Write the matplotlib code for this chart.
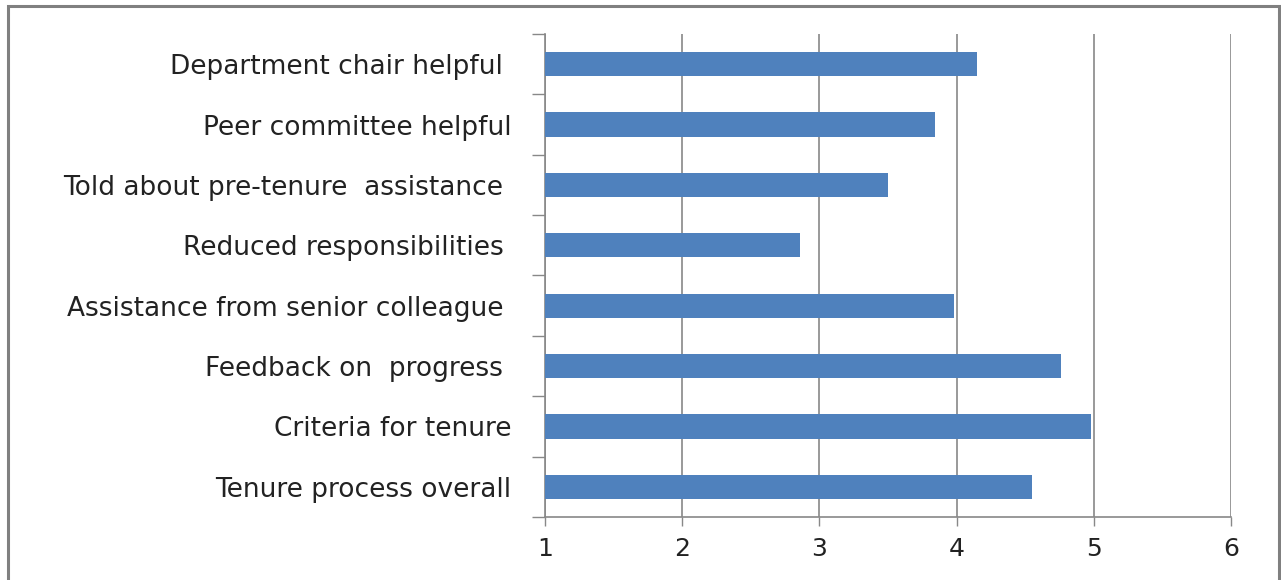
import matplotlib
matplotlib.use("Agg")
import matplotlib.pyplot as plt
from matplotlib.patches import Rectangle
import numpy as np

categories = [
    "Tenure process overall",
    "Criteria for tenure",
    "Feedback on  progress ",
    "Assistance from senior colleague ",
    "Reduced responsibilities ",
    "Told about pre-tenure  assistance ",
    "Peer committee helpful",
    "Department chair helpful ",
]
values = [4.55, 4.98, 4.76, 3.98, 2.86, 3.50, 3.84, 4.15]
xticks = [1, 2, 3, 4, 5, 6]

plt.rcParams['font.family'] = ['DejaVu Sans']

fig = plt.figure(figsize=(12.81, 5.80), dpi=100)
ax = fig.add_axes([545/1281, 1-517/580, (1231-545)/1281, (517-34)/580])

y = np.arange(len(categories))
ax.barh(y, values, height=0.4, color="#4F81BD", zorder=3)

ax.set_xlim(1, 6)
ax.set_ylim(-0.5, len(categories) - 0.5)
ax.set_xticks(xticks)
ax.set_xticklabels([str(t) for t in xticks], fontsize=18, color="#222222")
ax.set_yticks(y)
ax.set_yticklabels(categories, fontsize=19, color="#222222")
ax.set_yticks(np.arange(-0.5, len(categories), 1.0), minor=True)

ax.xaxis.grid(True, color="#888888", linewidth=1.2, zorder=0)
ax.tick_params(axis='y', which='major', length=0, pad=24)
ax.tick_params(axis='y', which='minor', length=9.5, width=1.0, color="#888888", direction='out')
ax.tick_params(axis='x', which='major', length=6.5, width=1.0, color="#888888", pad=8)

for s in ['top', 'right']:
    ax.spines[s].set_visible(False)
for s in ['left', 'bottom']:
    ax.spines[s].set_color("#888888")
    ax.spines[s].set_linewidth(1.2)

border = Rectangle((8/1281, -0.05), (1279-8)/1281, 1-6/580+0.05,
                   transform=fig.transFigure, fill=False,
                   edgecolor="#808080", linewidth=2.2)
fig.patches.append(border)

fig.savefig("out.png", dpi=100)
